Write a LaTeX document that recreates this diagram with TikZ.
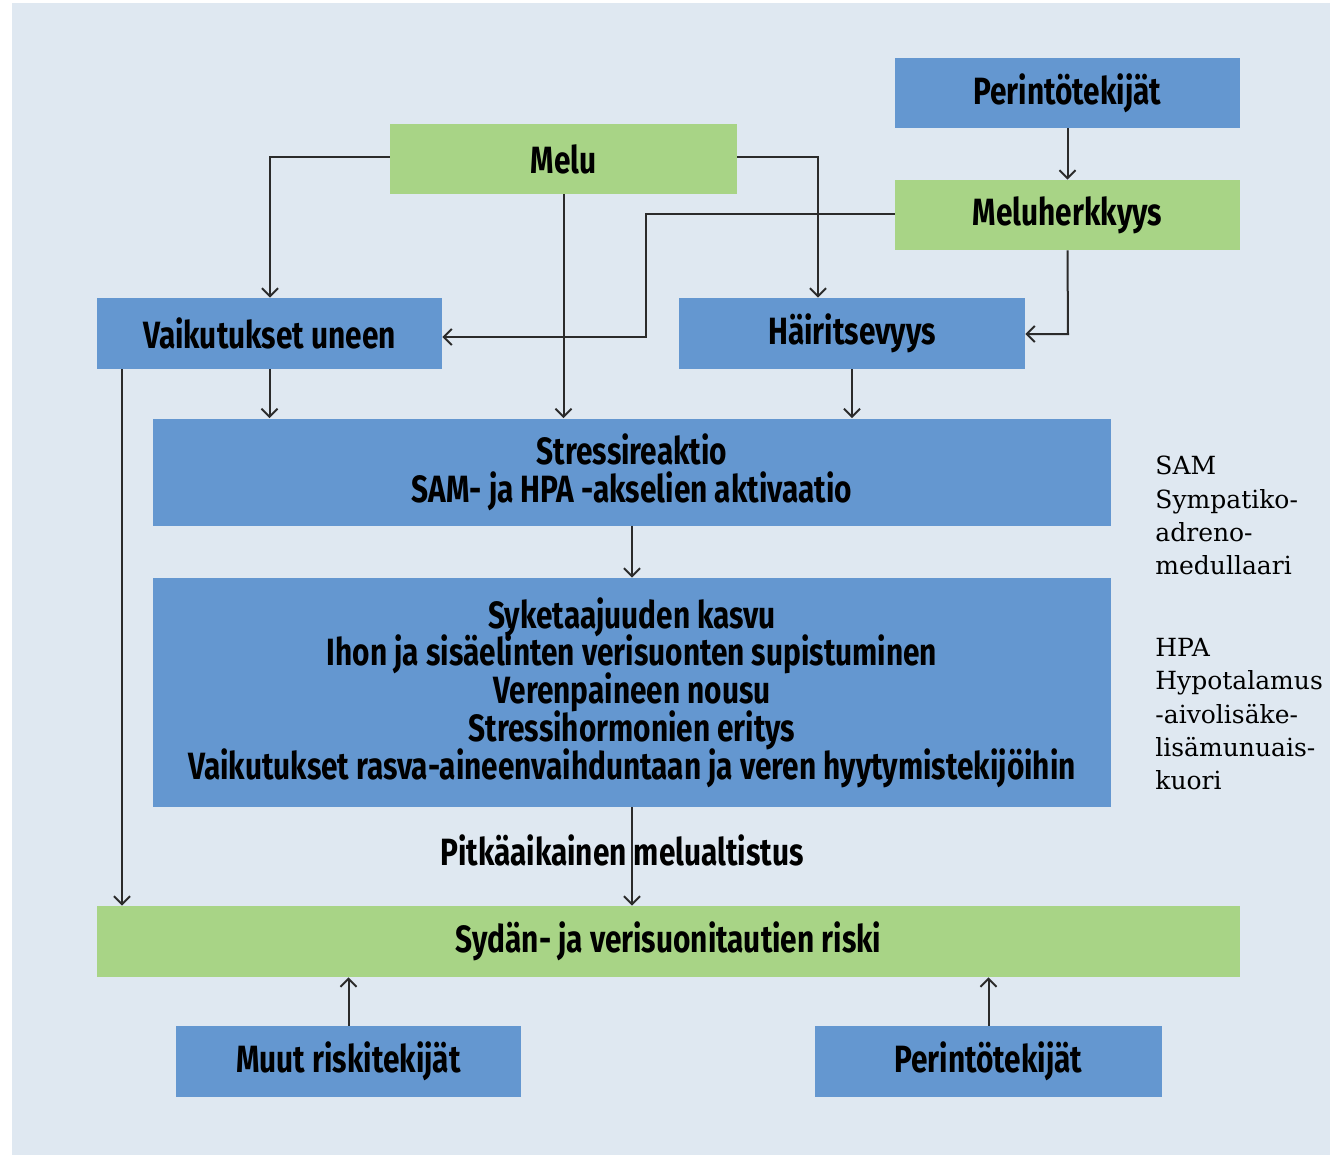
\documentclass[tikz,border=0pt]{standalone}
\usepackage{fontspec}
\usetikzlibrary{arrows.meta}
\newfontfamily\bxfont{Fira Sans}[FakeStretch=0.785]
\newfontfamily\sidefont{DejaVu Serif}
\newcommand\mytightlines{\lineskiplimit=-30pt\relax\lineskip=0pt\relax}
\definecolor{bgc}{HTML}{DFE8F1}
\definecolor{bluebox}{HTML}{6497D0}
\definecolor{greenbox}{HTML}{A8D486}
\definecolor{linec}{HTML}{2B2B2B}
\begin{document}
\begin{tikzpicture}[x=0.5pt,y=-0.5pt,
  box/.style={draw=none, inner sep=0pt, align=center, text=black,
    font=\bxfont\bfseries\fontsize{19pt}{18.9pt}\selectfont\mytightlines},
  bluenode/.style={box, fill=bluebox},
  greennode/.style={box, fill=greenbox},
  conn/.style={draw=linec, line width=1pt, -{Straight Barb[length=4pt,width=8pt,line width=1pt]}},
  sidetext/.style={anchor=north west, align=left, inner sep=0pt, text=black,
    font=\sidefont\fontsize{12.5pt}{16.6pt}\selectfont}]
\useasboundingbox (0,0) rectangle (1330,1157);
\fill[bgc] (12,3) rectangle (1330,1155);

\node[bluenode, minimum width=172.5pt, minimum height=35pt] (per1) at (1067.5,93) {Perintötekijät};
\node[greennode, minimum width=173.5pt, minimum height=35pt] (melu) at (563.5,159) {Melu};
\node[greennode, minimum width=172.5pt, minimum height=35pt] (mh) at (1067.5,215) {Meluherkkyys};
\node[bluenode, minimum width=172.5pt, minimum height=35.5pt] (vaik) at (269.5,333.5) {Vaikutukset uneen};
\node[bluenode, minimum width=173pt, minimum height=35.5pt] (hair) at (852,333.5) {Häiritsevyys};
\node[bluenode, minimum width=479pt, minimum height=53.5pt] (stress) at (632,472) {Stressireaktio\\SAM- ja HPA -akselien aktivaatio};
\node[bluenode, minimum width=479pt, minimum height=114.5pt] (big) at (632,692.5) {Syketaajuuden kasvu\\Ihon ja sisäelinten verisuonten supistuminen\\Verenpaineen nousu\\Stressihormonien eritys\\Vaikutukset rasva-aineenvaihduntaan ja veren hyytymistekijöihin};
\node[greennode, minimum width=571.5pt, minimum height=35.5pt] (syd) at (668.5,941.5) {Sydän- ja verisuonitautien riski};
\node[bluenode, minimum width=172.5pt, minimum height=35.5pt] (muut) at (348.5,1061.5) {Muut riskitekijät};
\node[bluenode, minimum width=173.5pt, minimum height=35.5pt] (per2) at (988.5,1061.5) {Perintötekijät};

\node[box, fill=none] (pitka) at (622,850) {Pitkäaikainen melualtistus};

\node[sidetext] (sam) at (1155,456) {SAM\\Sympatiko-\\adreno-\\medullaari};
\node[sidetext] (hpa) at (1155,638) {HPA\\Hypotalamus\\-aivolisäke-\\lisämunuais-\\kuori};

\draw[conn] (per1.south) -- (mh.north);
\draw[conn] (melu.west |- 0,157) -- (270,157) -- (vaik.north -| 270,0);
\draw[conn] (melu.east |- 0,157) -- (818,157) -- (hair.north -| 818,0);
\draw[conn] (melu.south) -- (stress.north -| melu.south);
\draw[conn] (mh.west |- 0,214) -- (646,214) -- (646,337) -- (vaik.east |- 0,337);
\draw[conn] (mh.south) -- (1068,334) -- (hair.east |- 0,334);
\draw[conn] (vaik.south) -- (stress.north -| vaik.south);
\draw[conn] (hair.south) -- (stress.north -| hair.south);
\draw[conn] (vaik.south -| 122,0) -- (syd.north -| 122,0);
\draw[conn] (stress.south) -- (big.north);
\draw[conn] (big.south) -- (syd.north -| big.south);
\draw[conn] (muut.north) -- (syd.south -| muut.north);
\draw[conn] (per2.north) -- (syd.south -| per2.north);
\end{tikzpicture}
\end{document}
